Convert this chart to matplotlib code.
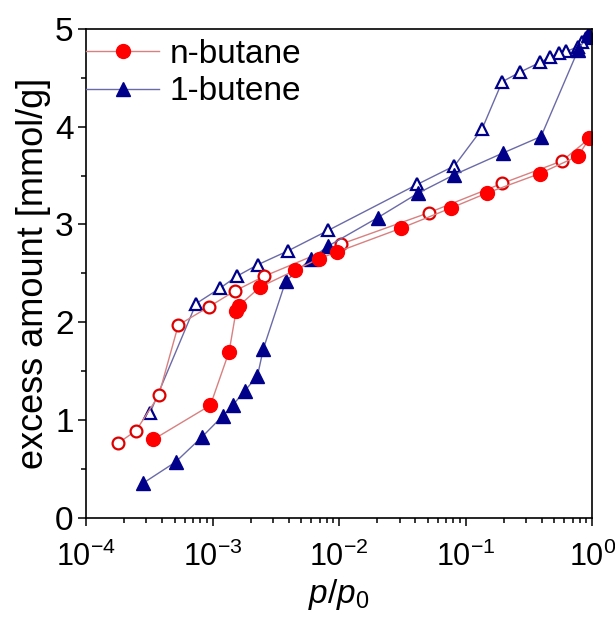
import matplotlib.pyplot as plt
from matplotlib.ticker import MultipleLocator, LogLocator, NullFormatter

plt.rcParams['font.family'] = ['Liberation Sans', 'DejaVu Sans']
plt.rcParams['mathtext.fontset'] = 'custom'
plt.rcParams['mathtext.rm'] = 'Liberation Sans'
plt.rcParams['mathtext.it'] = 'Liberation Sans:italic'

# n-butane, adsorption branch (filled) and desorption branch (open)
butane_ads_p = [3.4e-4, 9.6e-4, 1.35e-3, 1.53e-3, 1.62e-3, 2.37e-3, 4.46e-3, 6.9e-3,
                9.7e-3, 3.06e-2, 7.7e-2, 0.146, 0.384, 0.771, 0.95]
butane_ads_q = [0.80, 1.15, 1.70, 2.11, 2.17, 2.36, 2.53, 2.65,
                2.72, 2.96, 3.17, 3.32, 3.52, 3.70, 3.88]
butane_des_p = [0.95, 0.577, 0.194, 5.1e-2, 1.04e-2, 2.55e-3, 1.5e-3, 9.4e-4,
                5.35e-4, 3.75e-4, 2.48e-4, 1.78e-4]
butane_des_q = [3.88, 3.65, 3.42, 3.12, 2.80, 2.47, 2.32, 2.16,
                1.97, 1.25, 0.89, 0.76]

# 1-butene, adsorption branch (filled) and desorption branch (open)
butene_ads_p = [2.8e-4, 5.1e-4, 8.3e-4, 1.2e-3, 1.44e-3, 1.8e-3, 2.26e-3, 2.52e-3,
                3.78e-3, 6.0e-3, 8.2e-3, 2.02e-2, 4.2e-2, 8.15e-2, 0.196, 0.394,
                0.776, 0.93]
butene_ads_q = [0.35, 0.57, 0.83, 1.04, 1.15, 1.30, 1.45, 1.73,
                2.42, 2.65, 2.78, 3.07, 3.32, 3.51, 3.73, 3.90,
                4.79, 4.94]
butene_des_p = [0.95, 0.89, 0.834, 0.776, 0.624, 0.542, 0.46, 0.389, 0.27,
                0.194, 0.135, 8.15e-2, 4.14e-2, 8.2e-3, 3.94e-3, 2.29e-3,
                1.55e-3, 1.15e-3, 7.4e-4, 3.2e-4]
butene_des_q = [4.95, 4.91, 4.87, 4.82, 4.77, 4.75, 4.71, 4.66, 4.56,
                4.46, 3.98, 3.60, 3.41, 2.94, 2.73, 2.59,
                2.47, 2.35, 2.19, 1.07]

red = '#ff0000'
red_line = '#d98080'
blue = '#00008b'
blue_line = '#6a6aa8'

fig = plt.figure(figsize=(6.15, 6.17), dpi=100)
ax = fig.add_axes([0.140, 0.161, 0.823, 0.792])

ax.plot(butene_des_p, butene_des_q, '-^', color=blue_line, lw=1,
        mfc='white', mec=blue, mew=1.6, ms=9)
ax.plot(butane_des_p, butane_des_q, '-o', color=red_line, lw=1,
        mfc='white', mec='#dd0000', mew=1.6, ms=8.5)
ax.plot(butene_ads_p, butene_ads_q, '-^', color=blue_line, lw=1,
        mfc=blue, mec=blue, ms=10, label='1-butene')
ax.plot(butane_ads_p, butane_ads_q, '-o', color=red_line, lw=1,
        mfc=red, mec=red, ms=10, label='n-butane')

ax.set_xscale('log')
ax.set_xlim(1e-4, 1)
ax.set_ylim(0, 5)
ax.yaxis.set_major_locator(MultipleLocator(1))
ax.yaxis.set_minor_locator(MultipleLocator(0.5))
ax.xaxis.set_major_locator(LogLocator(base=10, numticks=10))
ax.xaxis.set_minor_locator(LogLocator(base=10, subs=range(2, 10), numticks=20))
ax.xaxis.set_minor_formatter(NullFormatter())
ax.tick_params(which='both', direction='out', top=False, right=False, width=1.1)
ax.tick_params(which='major', length=6)
ax.tick_params(which='minor', length=3.5)
ax.tick_params(axis='x', which='major', labelsize=22, pad=11)
ax.tick_params(axis='y', which='major', labelsize=24, pad=3)
for s in ax.spines.values():
    s.set_linewidth(1.2)

ax.set_xlabel('$p/p_0$', fontsize=24, labelpad=3)
ax.set_ylabel('excess amount [mmol/g]', fontsize=26, labelpad=3)

handles, labels = ax.get_legend_handles_labels()
ax.legend(handles[::-1], labels[::-1], loc='upper left', bbox_to_anchor=(0, 0.98),
          frameon=False, fontsize=24, handlelength=2.2, handletextpad=0.3,
          labelspacing=0.2, borderaxespad=0, borderpad=0)

fig.savefig('out.png', dpi=100)
